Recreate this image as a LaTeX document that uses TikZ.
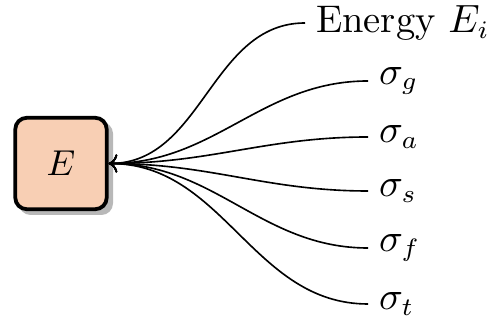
\documentclass[tikz,border=0pt]{standalone}
\usetikzlibrary{arrows.meta}
\definecolor{peach}{RGB}{248,207,180}
\begin{document}
\begin{tikzpicture}[x=0.2778pt,y=-0.2778pt,
  ebox/.style={draw=black,line width=1.05pt,fill=peach,rounded corners=3.2pt,minimum width=25.4pt,minimum height=25.4pt,inner sep=0pt},
  lab/.style={anchor=west,inner sep=2.9pt,font=\fontsize{10.7}{13}\selectfont},
  conn/.style={line width=0.45pt,{To[length=2.4pt,width=5pt]}-}]
\useasboundingbox (0,0) rectangle (487,320);
\fill[black!28,rounded corners=3.2pt] (19,122) rectangle (113,215);
\node[ebox] (E) at (61,163.5) {$E$};
\node[lab] (l0) at (305,23) {Energy $E_i$};
\node[lab] (l1) at (368,81) {$\sigma_g$};
\node[lab] (l2) at (368,137) {$\sigma_a$};
\node[lab] (l3) at (368,191) {$\sigma_s$};
\node[lab] (l4) at (368,248) {$\sigma_f$};
\node[lab] (l5) at (368,304) {$\sigma_t$};
\foreach \n in {l0,l1,l2,l3,l4,l5}
  \draw[conn] (E.east) to[out=0,in=180] (\n.west);
\end{tikzpicture}
\end{document}
